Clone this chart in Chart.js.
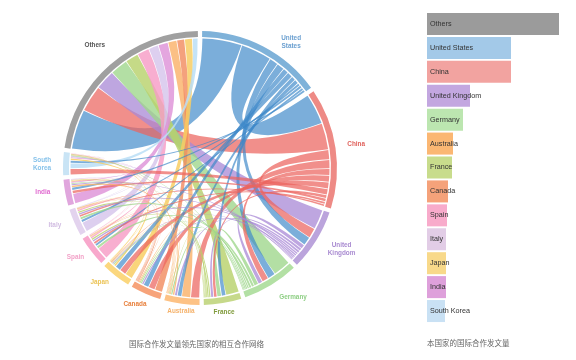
<!DOCTYPE html>
<html><head><meta charset="utf-8">
<script src="https://cdn.jsdelivr.net/npm/chart.js@4.4.1/dist/chart.umd.min.js"></script>
<style>
html,body{margin:0;padding:0;background:#fff;width:576px;height:360px;overflow:hidden}
.box{position:absolute;top:0;height:360px}
</style></head><body>
<div class="box" style="left:0;width:410px"><canvas id="chord"></canvas></div>
<div class="box" style="left:410px;width:166px"><canvas id="bars"></canvas></div>
<script>
// ---------------- DATA ----------------
const countries = ['United States','China','United Kingdom','Germany','France','Australia','Canada','Japan','Spain','Italy','India','South Korea','Others'];
const countryLines = [['United','States'],['China'],['United','Kingdom'],['Germany'],['France'],['Australia'],['Canada'],['Japan'],['Spain'],['Italy'],['India'],['South','Korea'],['Others']];
// collaboration links (source, target, volume)
const linksUS = [['United States','China',14],['United States','United Kingdom',4],['United States','Germany',3.5],['United States','France',2],['United States','Australia',2],['United States','Canada',2.5],['United States','Japan',2.5],['United States','Spain',1.2],['United States','Italy',1.3],['United States','India',1.3],['United States','South Korea',1.2],['United States','Others',18]];
const linksChina = [['China','United Kingdom',4.5],['China','Germany',3],['China','France',1.5],['China','Australia',4],['China','Canada',3],['China','Japan',3],['China','Spain',1.2],['China','Italy',1],['China','India',1.5],['China','South Korea',2.8],['China','Others',12]];
const linksUK = [['United Kingdom','Germany',2],['United Kingdom','France',1.3],['United Kingdom','Australia',1.2],['United Kingdom','Canada',0.8],['United Kingdom','Japan',0.5],['United Kingdom','Spain',0.9],['United Kingdom','Italy',0.9],['United Kingdom','India',0.6],['United Kingdom','South Korea',0.4],['United Kingdom','Others',9]];
const linksGermany = [['Germany','France',2],['Germany','Australia',0.8],['Germany','Canada',0.7],['Germany','Japan',0.6],['Germany','Spain',1.3],['Germany','Italy',1.2],['Germany','India',0.5],['Germany','South Korea',0.4],['Germany','Others',8]];
const linksFrance = [['France','Australia',0.4],['France','Canada',0.5],['France','Japan',0.3],['France','Spain',0.8],['France','Italy',0.8],['France','India',0.2],['France','South Korea',0.2],['France','Others',6]];
const linksAustralia = [['Australia','Canada',0.5],['Australia','Japan',0.3],['Australia','Spain',0.3],['Australia','Italy',0.3],['Australia','India',0.9],['Australia','South Korea',0.3],['Australia','Others',4]];
const linksCanada = [['Canada','Japan',0.3],['Canada','Spain',0.3],['Canada','Italy',0.3],['Canada','India',0.4],['Canada','South Korea',0.2],['Canada','Others',3.5]];
const linksJapan = [['Japan','Spain',0.2],['Japan','Italy',0.2],['Japan','India',0.3],['Japan','South Korea',1.0],['Japan','Others',3.5]];
const linksSpain = [['Spain','Italy',0.8],['Spain','India',0.2],['Spain','South Korea',0.2],['Spain','Others',5.5]];
const linksItaly = [['Italy','India',0.2],['Italy','South Korea',0.1],['Italy','Others',4.5]];
const linksIndia = [['India','South Korea',0.5],['India','Others',4.5]];
const linksKorea = [['South Korea','Others',2.5]];

const barCategories = ['Others','United States','China','United Kingdom','Germany','Australia','France','Canada','Spain','Italy','Japan','India','South Korea'];
const barValues = [132,84,84,43,36,26,25,21,20,19,19,19,18];

const captionLeft = '国际合作发文量领先国家的相互合作网络';
const captionRight = '本国家的国际合作发文量';

// ---------------- STYLE ----------------
const ringColor = {'United States':'#7fb2d9','China':'#ee8a85','United Kingdom':'#bba4dc','Germany':'#b3e0a4','France':'#c6d98a','Australia':'#fdc285','Canada':'#f7a37a','Japan':'#fbd77e','Spain':'#f8a8cc','Italy':'#e3d3ee','India':'#e0a6dd','South Korea':'#c9e4f5','Others':'#a0a0a0'};
const ribbonColor = {'United States':'rgba(60,135,200,0.68)','China':'rgba(236,100,94,0.72)','United Kingdom':'rgba(168,136,214,0.75)','Germany':'rgba(158,214,138,0.78)','France':'rgba(184,210,108,0.82)','Australia':'rgba(250,178,106,0.82)','Canada':'rgba(242,140,96,0.82)','Japan':'rgba(248,206,100,0.85)','Spain':'rgba(246,156,198,0.82)','Italy':'rgba(214,196,236,0.82)','India':'rgba(222,146,216,0.82)','South Korea':'rgba(186,222,246,0.85)','Others':'rgba(150,150,150,0.7)'};
const labelColor = {'United States':'#6a9fd0','China':'#e0625c','United Kingdom':'#a98bd1','Germany':'#8fcf85','France':'#7f9a3a','Australia':'#f5b26b','Canada':'#e8803d','Japan':'#ebc355','Spain':'#f2a2c8','Italy':'#d2bde2','India':'#e06ad0','South Korea':'#86c2ea','Others':'#555555'};
const barColor = {'United States':'#a3c9e8','China':'#f2a3a0','United Kingdom':'#c3a7e0','Germany':'#bce6b0','France':'#c8dc8c','Australia':'#fbb773','Canada':'#f5a27a','Japan':'#f8d98a','Spain':'#f8abcb','Italy':'#e2cde6','India':'#dea0db','South Korea':'#c9e1f4','Others':'#9b9b9b'};
// label placement: [angle deg clockwise from top, distance outside ring]
const labelPlace = {'United States':[36,18],'China':[81.3,21],'United Kingdom':[119.7,26],'Germany':[144.2,22],'France':[170.5,9],'Australia':[187.6,7],'Canada':[205.5,14],'Japan':[221.3,15],'Spain':[234.5,16],'Italy':[248.5,19],'India':[261.3,22],'South Korea':[271.5,21],'Others':[319.5,25]};

const allLinks = [].concat(linksUS,linksChina,linksUK,linksGermany,linksFrance,linksAustralia,linksCanada,linksJapan,linksSpain,linksItaly,linksIndia,linksKorea);
const n = countries.length;
const M = Array.from({length:n},()=>new Array(n).fill(0));
allLinks.forEach(([a,b,v])=>{const i=countries.indexOf(a),j=countries.indexOf(b);M[i][j]=v;M[j][i]=v;});
const groupTotals = M.map(r=>r.reduce((p,q)=>p+q,0));
const GAP_DEG = 1.8;
const sumGroups = groupTotals.reduce((p,q)=>p+q,0);
const gapVal = sumGroups*GAP_DEG/(360-n*GAP_DEG);
const ringData = [], ringColors = [];
groupTotals.forEach((t,i)=>{ringData.push(t);ringColors.push(ringColor[countries[i]]);ringData.push(gapVal);ringColors.push('rgba(0,0,0,0)');});

const chordPlugin = {
  id:'chords',
  afterDatasetsDraw(chart){
    const arcs = chart.getDatasetMeta(0).data;
    const ctx = chart.ctx;
    const cx = arcs[0].x, cy = arcs[0].y;
    const rOut = arcs[0].outerRadius, rIn = arcs[0].innerRadius;
    const rc = rIn - 1.5;
    const sub = [];
    for(let i=0;i<n;i++){
      const el = arcs[2*i];
      const s = el.startAngle, e = el.endAngle;
      const k = (e-s)/groupTotals[i];
      const order = [...Array(n).keys()].filter(j=>M[i][j]>0).sort((p,q)=>M[i][q]-M[i][p]);
      let a = s; sub[i] = [];
      order.forEach(j=>{const w=M[i][j]*k;sub[i][j]=[a,a+w];a+=w;});
    }
    const pairs = allLinks.map(([a,b,v])=>({i:countries.indexOf(a),j:countries.indexOf(b),v})).sort((x,y)=>y.v-x.v);
    ctx.save();
    ctx.translate(cx,cy);
    pairs.forEach(p=>{
      let [a0,a1] = sub[p.i][p.j]; let [b0,b1] = sub[p.j][p.i];
      const pa = Math.min(0.003,(a1-a0)*0.15);
      a0+=pa;a1-=pa;b0+=pa;b1-=pa;
      ctx.beginPath();
      ctx.moveTo(rc*Math.cos(a0),rc*Math.sin(a0));
      ctx.arc(0,0,rc,a0,a1);
      ctx.quadraticCurveTo(0,0,rc*Math.cos(b0),rc*Math.sin(b0));
      ctx.arc(0,0,rc,b0,b1);
      ctx.quadraticCurveTo(0,0,rc*Math.cos(a0),rc*Math.sin(a0));
      ctx.closePath();
      const owner = countries[Math.min(p.i,p.j)];
      ctx.fillStyle = ribbonColor[owner];
      ctx.fill();
    });
    ctx.restore();
    // labels
    ctx.save();
    ctx.font = 'bold 6.4px "Liberation Sans", Arial, sans-serif';
    ctx.textAlign = 'center';
    ctx.textBaseline = 'middle';
    countries.forEach((c,i)=>{
      const [deg,off] = labelPlace[c];
      const ang = deg*Math.PI/180;
      const r = rOut + off;
      const x = cx + r*Math.sin(ang), y = cy - r*Math.cos(ang);
      const lines = countryLines[i];
      ctx.fillStyle = labelColor[c];
      lines.forEach((t,li)=>{ctx.fillText(t,x,y+(li-(lines.length-1)/2)*8);});
    });
    // caption
    ctx.font = '7.5px "Noto Sans CJK SC", sans-serif';
    ctx.textAlign = 'left';
    ctx.fillStyle = '#666';
    ctx.fillText(captionLeft,129,344);
    ctx.restore();
  }
};

new Chart(document.getElementById('chord'),{
  type:'doughnut',
  data:{labels:ringData.map((_,i)=>i%2?'':countries[i/2]),datasets:[{data:ringData,backgroundColor:ringColors,borderWidth:0,hoverOffset:0,offset:0}]},
  options:{
    responsive:true,maintainAspectRatio:false,animation:false,
    cutout:131,rotation:GAP_DEG/2,
    layout:{padding:{left:63,right:73,top:31,bottom:55}},
    plugins:{legend:{display:false},tooltip:{enabled:false}},
    events:[]
  },
  plugins:[chordPlugin]
});

const barLabelPlugin = {
  id:'barLabels',
  afterDatasetsDraw(chart){
    const ctx = chart.ctx;
    const meta = chart.getDatasetMeta(0);
    ctx.save();
    ctx.font = '7.2px "Liberation Sans", Arial, sans-serif';
    ctx.fillStyle = '#333';
    ctx.textBaseline = 'middle';
    ctx.textAlign = 'left';
    meta.data.forEach((b,i)=>{ctx.fillText(barCategories[i],chart.chartArea.left+3,b.y);});
    ctx.font = '7.5px "Noto Sans CJK SC", sans-serif';
    ctx.fillStyle = '#666';
    ctx.fillText(captionRight,chart.chartArea.left,343);
    ctx.restore();
  }
};

new Chart(document.getElementById('bars'),{
  type:'bar',
  data:{labels:barCategories,datasets:[{data:barValues,backgroundColor:barCategories.map(c=>barColor[c]),borderWidth:0,barPercentage:0.92,categoryPercentage:1}]},
  options:{
    indexAxis:'y',responsive:true,maintainAspectRatio:false,animation:false,
    layout:{padding:{left:17,right:0,top:12,bottom:37}},
    scales:{x:{display:false,min:0,max:149},y:{display:false}},
    plugins:{legend:{display:false},tooltip:{enabled:false}},
    events:[]
  },
  plugins:[barLabelPlugin]
});
</script>
</body></html>
